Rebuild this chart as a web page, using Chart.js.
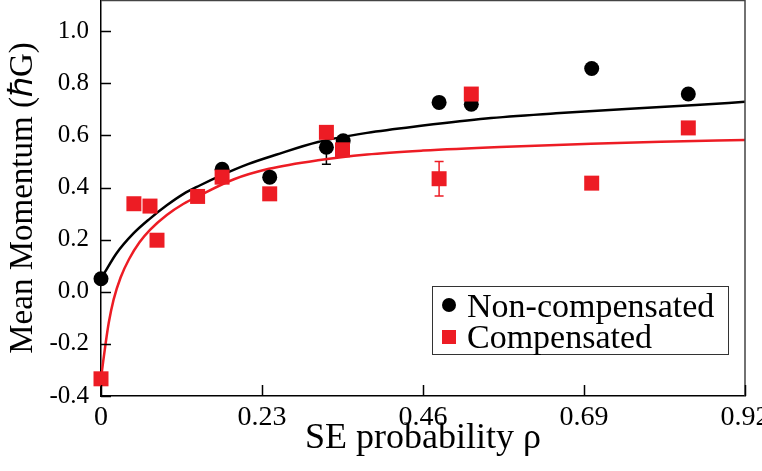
<!DOCTYPE html>
<html>
<head>
<meta charset="utf-8">
<script src="https://cdn.jsdelivr.net/npm/chart.js@4/dist/chart.umd.min.js"></script>
<style>
  html, body { margin: 0; padding: 0; background: #fff; }
  #wrap { width: 762px; height: 471px; }
</style>
</head>
<body>
<div id="wrap"><canvas id="momentumChart" width="762" height="471"></canvas></div>
<script>
const rhoNonComp = [0, 0.173, 0.241, 0.322, 0.346, 0.483, 0.529, 0.701, 0.839];
const momNonComp = [0.05, 0.47, 0.44, 0.555, 0.58, 0.727, 0.72, 0.857, 0.759];
const errNonComp = [0, 0, 0, 0.065, 0, 0, 0, 0, 0];

const rhoComp = [0, 0.047, 0.07, 0.08, 0.138, 0.173, 0.241, 0.322, 0.345, 0.483, 0.529, 0.701, 0.839];
const momComp = [-0.334, 0.338, 0.329, 0.198, 0.366, 0.44, 0.376, 0.612, 0.545, 0.434, 0.759, 0.417, 0.629];
const errComp = [0, 0, 0, 0, 0, 0, 0, 0, 0, 0.066, 0, 0, 0];

// fitted curves, sampled from the figure
const fitNonCompX = [0, 0.006, 0.022, 0.046, 0.07, 0.094, 0.118, 0.141, 0.17, 0.21, 0.25, 0.31, 0.38, 0.46, 0.55, 0.65, 0.75, 0.85, 0.92];
const fitNonCompY = [0.05, 0.077, 0.147, 0.223, 0.281, 0.332, 0.376, 0.408, 0.445, 0.49, 0.526, 0.575, 0.61, 0.638, 0.665, 0.685, 0.702, 0.717, 0.729];
const fitCompX = [0, 0.003, 0.006, 0.011, 0.018, 0.028, 0.04, 0.055, 0.07, 0.094, 0.118, 0.141, 0.19, 0.24, 0.31, 0.38, 0.46, 0.57, 0.7, 0.8, 0.92];
const fitCompY = [-0.334, -0.27, -0.21, -0.12, -0.03, 0.055, 0.125, 0.19, 0.238, 0.295, 0.338, 0.37, 0.432, 0.472, 0.505, 0.527, 0.542, 0.556, 0.568, 0.576, 0.583];

const xTicks = [0, 0.23, 0.46, 0.69, 0.92];
const yTicks = [-0.4, -0.2, 0, 0.2, 0.4, 0.6, 0.8, 1.0];
const legendLabels = ['Non-compensated', 'Compensated'];

const RED = '#ed1c24';
const SERIF = "'Liberation Serif', 'Times New Roman', serif";

const toPts = (xs, ys) => xs.map((x, i) => ({ x: x, y: ys[i] }));

// error bars, inward ticks, frame and the boxed legend
const extras = {
    id: 'extras',
    beforeDatasetsDraw(chart) {
        const c = chart.ctx;
        const xs = chart.scales.x, ys = chart.scales.y;
        const bars = [[rhoNonComp, momNonComp, errNonComp, '#000'], [rhoComp, momComp, errComp, RED]];
        c.save();
        c.lineWidth = 1.5;
        bars.forEach(([rx, my, er, col]) => {
            c.strokeStyle = col;
            rx.forEach((r, i) => {
                if (!er[i]) return;
                const px = xs.getPixelForValue(r);
                const top = ys.getPixelForValue(my[i] + er[i]);
                const bot = ys.getPixelForValue(my[i] - er[i]);
                c.beginPath();
                c.moveTo(px, top); c.lineTo(px, bot);
                c.moveTo(px - 4.5, top); c.lineTo(px + 4.5, top);
                c.moveTo(px - 4.5, bot); c.lineTo(px + 4.5, bot);
                c.stroke();
            });
        });
        c.restore();
    },
    afterDraw(chart) {
        const c = chart.ctx;
        const a = chart.chartArea;
        const xs = chart.scales.x, ys = chart.scales.y;
        c.save();
        // frame
        c.strokeStyle = '#444';
        c.lineWidth = 1.5;
        c.beginPath();
        c.moveTo(a.left, a.top + 0.5); c.lineTo(a.right, a.top + 0.5);
        c.moveTo(a.right, a.top); c.lineTo(a.right, a.bottom);
        c.stroke();
        // inward ticks
        c.strokeStyle = '#000';
        c.beginPath();
        yTicks.forEach(v => {
            const py = Math.round(ys.getPixelForValue(v)) + 0.5;
            c.moveTo(a.left, py); c.lineTo(a.left + 10, py);
        });
        xTicks.forEach(v => {
            const px = Math.round(xs.getPixelForValue(v)) + 0.5;
            c.moveTo(px, a.bottom); c.lineTo(px, a.bottom - 11);
        });
        c.stroke();

        // legend
        const bx = a.right - 313, by = a.bottom - 110, bw = 296, bh = 68;
        c.fillStyle = '#fff';
        c.fillRect(bx, by, bw, bh);
        c.strokeStyle = '#333';
        c.lineWidth = 1;
        c.strokeRect(bx + 0.5, by + 0.5, bw, bh);
        c.font = '34px ' + SERIF;
        c.textBaseline = 'alphabetic';
        c.textAlign = 'left';
        c.fillStyle = '#000';
        c.beginPath();
        c.arc(bx + 17, by + 19, 7, 0, Math.PI * 2);
        c.fill();
        c.fillText(legendLabels[0], bx + 35, by + 31);
        c.fillStyle = RED;
        c.fillRect(bx + 10, by + 44, 14, 14);
        c.fillStyle = '#000';
        c.fillText(legendLabels[1], bx + 35, by + 62);
        c.restore();
    }
};

const ctx = document.getElementById('momentumChart').getContext('2d');
new Chart(ctx, {
    type: 'scatter',
    data: {
        datasets: [
            {
                label: legendLabels[1],
                data: toPts(rhoComp, momComp),
                pointStyle: 'rect',
                pointRadius: 10.6,
                pointHoverRadius: 10.6,
                backgroundColor: RED,
                borderWidth: 0,
                clip: false,
                order: 0
            },
            {
                label: legendLabels[0],
                data: toPts(rhoNonComp, momNonComp),
                pointStyle: 'circle',
                pointRadius: 7.5,
                pointHoverRadius: 7.5,
                backgroundColor: '#000',
                borderWidth: 0,
                clip: false,
                order: 1
            },
            {
                label: 'fit compensated',
                data: toPts(fitCompX, fitCompY),
                showLine: true,
                pointRadius: 0,
                borderColor: RED,
                borderWidth: 2.5,
                cubicInterpolationMode: 'monotone',
                order: 2
            },
            {
                label: 'fit non-compensated',
                data: toPts(fitNonCompX, fitNonCompY),
                showLine: true,
                pointRadius: 0,
                borderColor: '#000',
                borderWidth: 2.5,
                cubicInterpolationMode: 'monotone',
                order: 3
            }
        ]
    },
    options: {
        responsive: false,
        animation: false,
        layout: { autoPadding: false, padding: { left: 0, top: 0, right: 17, bottom: 0 } },
        plugins: {
            legend: { display: false },
            tooltip: { enabled: false }
        },
        scales: {
            x: {
                type: 'linear',
                min: 0,
                max: 0.92,
                afterBuildTicks: s => { s.ticks = xTicks.map(v => ({ value: v })); },
                afterFit: s => {
                    s.height = 75;
                    s.paddingLeft = 0; s.paddingRight = 0;
                },
                grid: { display: false, drawTicks: false },
                border: { display: true, color: '#000', width: 1.5 },
                ticks: {
                    color: '#000',
                    padding: 5,
                    maxRotation: 0,
                    font: { family: SERIF, size: 28 },
                    callback: v => (v === 0 ? '0' : v.toFixed(2))
                },
                title: {
                    display: true,
                    text: 'SE probability ρ',
                    color: '#000',
                    font: { family: SERIF, size: 36 },
                    padding: { top: 0, bottom: 11 }
                }
            },
            y: {
                type: 'linear',
                min: -0.4,
                max: 1.12,
                afterBuildTicks: s => { s.ticks = yTicks.map(v => ({ value: v })); },
                afterFit: s => {
                    s.width = 101;
                    s.paddingTop = 0; s.paddingBottom = 0;
                },
                grid: { display: false, drawTicks: false },
                border: { display: true, color: '#000', width: 1.5 },
                ticks: {
                    color: '#000',
                    padding: 12,
                    font: { family: SERIF, size: 25 },
                    callback: v => v.toFixed(1)
                },
                title: {
                    display: true,
                    text: 'Mean Momentum (ℏG)',
                    color: '#000',
                    font: { family: SERIF, size: 33 },
                    padding: { top: 4, bottom: 0 }
                }
            }
        }
    },
    plugins: [extras]
});
</script>
</body>
</html>
